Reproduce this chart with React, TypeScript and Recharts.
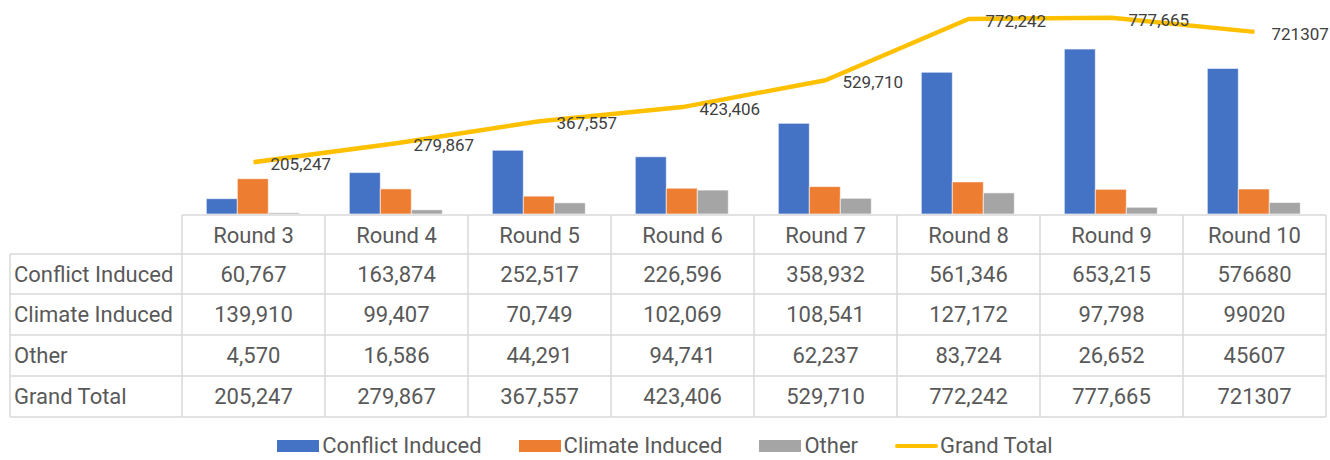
import React from 'react';
import { ComposedChart, Bar, Line, XAxis, YAxis, LabelList } from 'recharts';

const rounds = ['Round 3', 'Round 4', 'Round 5', 'Round 6', 'Round 7', 'Round 8', 'Round 9', 'Round 10'];
const conflictInduced = [60767, 163874, 252517, 226596, 358932, 561346, 653215, 576680];
const climateInduced = [139910, 99407, 70749, 102069, 108541, 127172, 97798, 99020];
const other = [4570, 16586, 44291, 94741, 62237, 83724, 26652, 45607];
const grandTotal = [205247, 279867, 367557, 423406, 529710, 772242, 777665, 721307];
// rounds whose values appear without thousands separators in the source table
const unformattedRounds = ['Round 10'];

const seriesNames = ['Conflict Induced', 'Climate Induced', 'Other', 'Grand Total'];
const seriesKeys = ['conflict', 'climate', 'other', 'total'];
const seriesColors = ['#4472C4', '#ED7D31', '#A5A5A5', '#FFC000'];

const data = rounds.map((r, i) => ({
  round: r,
  conflict: conflictInduced[i],
  climate: climateInduced[i],
  other: other[i],
  total: grandTotal[i],
}));

const fmt = (v: number, round: string) =>
  unformattedRounds.includes(round) ? String(v) : v.toLocaleString('en-US');

const W = 1330;
const H = 460;
const PLOT_LEFT = 182;
const PLOT_RIGHT = 1326;
const COL_W = (PLOT_RIGHT - PLOT_LEFT) / rounds.length;
const LABEL_LEFT = 10;
// row boundaries relative to table top
const ROW_EDGES = [0, 39, 79, 120, 161, 202];
const GRID = '#D9D9D9';
const TEXT = '#595959';
const FONT = 22;

const TableColumn = (props: any) => {
  const { x, y, payload, index } = props;
  const top = y + 1;
  const round = payload.value as string;
  const i = rounds.indexOf(round);
  const values = [conflictInduced[i], climateInduced[i], other[i], grandTotal[i]];
  const left = x - COL_W / 2;
  const right = x + COL_W / 2;
  const els: any[] = [];
  els.push(<line key="r" x1={right} x2={right} y1={top} y2={top + ROW_EDGES[5]} stroke={GRID} strokeWidth={1.5} />);
  if (index === 0) {
    els.push(<line key="l" x1={left} x2={left} y1={top} y2={top + ROW_EDGES[5]} stroke={GRID} strokeWidth={1.5} />);
    els.push(<line key="ll" x1={LABEL_LEFT} x2={LABEL_LEFT} y1={top + ROW_EDGES[1]} y2={top + ROW_EDGES[5]} stroke={GRID} strokeWidth={1.5} />);
    els.push(<line key="h0" x1={left} x2={PLOT_RIGHT} y1={top} y2={top} stroke={GRID} strokeWidth={1.5} />);
    for (let k = 1; k < ROW_EDGES.length; k++) {
      els.push(
        <line key={'h' + k} x1={LABEL_LEFT} x2={PLOT_RIGHT} y1={top + ROW_EDGES[k]} y2={top + ROW_EDGES[k]} stroke={GRID} strokeWidth={1.5} />
      );
    }
    seriesNames.forEach((name, k) => {
      const cy = top + (ROW_EDGES[k + 1] + ROW_EDGES[k + 2]) / 2;
      els.push(
        <text key={'n' + k} x={LABEL_LEFT + 4} y={cy} dy="0.35em" fontSize={FONT} fill={TEXT} textAnchor="start">
          {name}
        </text>
      );
    });
  }
  els.push(
    <text key="hdr" x={x} y={top + (ROW_EDGES[0] + ROW_EDGES[1]) / 2 + 1} dy="0.35em" fontSize={FONT} fill={TEXT} textAnchor="middle">
      {round}
    </text>
  );
  values.forEach((v, k) => {
    const cy = top + (ROW_EDGES[k + 1] + ROW_EDGES[k + 2]) / 2;
    els.push(
      <text key={'v' + k} x={x} y={cy} dy="0.35em" fontSize={FONT} fill={TEXT} textAnchor="middle">
        {fmt(v, round)}
      </text>
    );
  });
  return <g>{els}</g>;
};

const TotalLabel = (props: any) => {
  const { x, y, value, index } = props;
  return (
    <text x={x + 17} y={y + 2} dy="0.35em" fontSize={17} fill="#404040" textAnchor="start">
      {fmt(value, rounds[index])}
    </text>
  );
};

const LegendRow = () => (
  <div
    style={{
      position: 'absolute',
      left: 0,
      top: 433,
      width: W,
      display: 'flex',
      justifyContent: 'center',
      alignItems: 'center',
      fontSize: FONT,
      color: TEXT,
      whiteSpace: 'nowrap',
    }}
  >
    {seriesNames.map((name, k) => (
      <div key={name} style={{ display: 'flex', alignItems: 'center', marginLeft: k === 0 ? 0 : 37 }}>
        {k < 3 ? (
          <div style={{ width: 42, height: 12, background: seriesColors[k], marginRight: 3 }} />
        ) : (
          <div style={{ width: 43, height: 4, borderRadius: 2, background: seriesColors[k], marginRight: 2 }} />
        )}
        <span>{name}</span>
      </div>
    ))}
  </div>
);

export default function App() {
  return (
    <div style={{ position: 'absolute', left: 0, top: 0, width: W, height: H, fontFamily: 'Roboto, sans-serif', background: '#fff' }}>
      <ComposedChart
        width={W}
        height={H}
        data={data}
        margin={{ top: 12, right: W - PLOT_RIGHT, left: PLOT_LEFT, bottom: 36 }}
        barCategoryGap="17%"
        barGap={0}
      >
        <XAxis
          dataKey="round"
          height={210}
          axisLine={false}
          tickLine={false}
          tickSize={0}
          tickMargin={0}
          interval={0}
          tick={<TableColumn />}
        />
        <YAxis hide domain={[0, 800000]} />
        {seriesKeys.slice(0, 3).map((k, i) => (
          <Bar key={k} dataKey={k} name={seriesNames[i]} fill={seriesColors[i]} stroke="#ffffff" strokeWidth={0.6} isAnimationActive={false} />
        ))}
        <Line
          dataKey="total"
          name={seriesNames[3]}
          stroke={seriesColors[3]}
          strokeWidth={4.5}
          dot={false}
          activeDot={false}
          type="linear"
          strokeLinejoin="round"
          isAnimationActive={false}
        >
          <LabelList dataKey="total" content={<TotalLabel />} />
        </Line>
      </ComposedChart>
      <LegendRow />
    </div>
  );
}
